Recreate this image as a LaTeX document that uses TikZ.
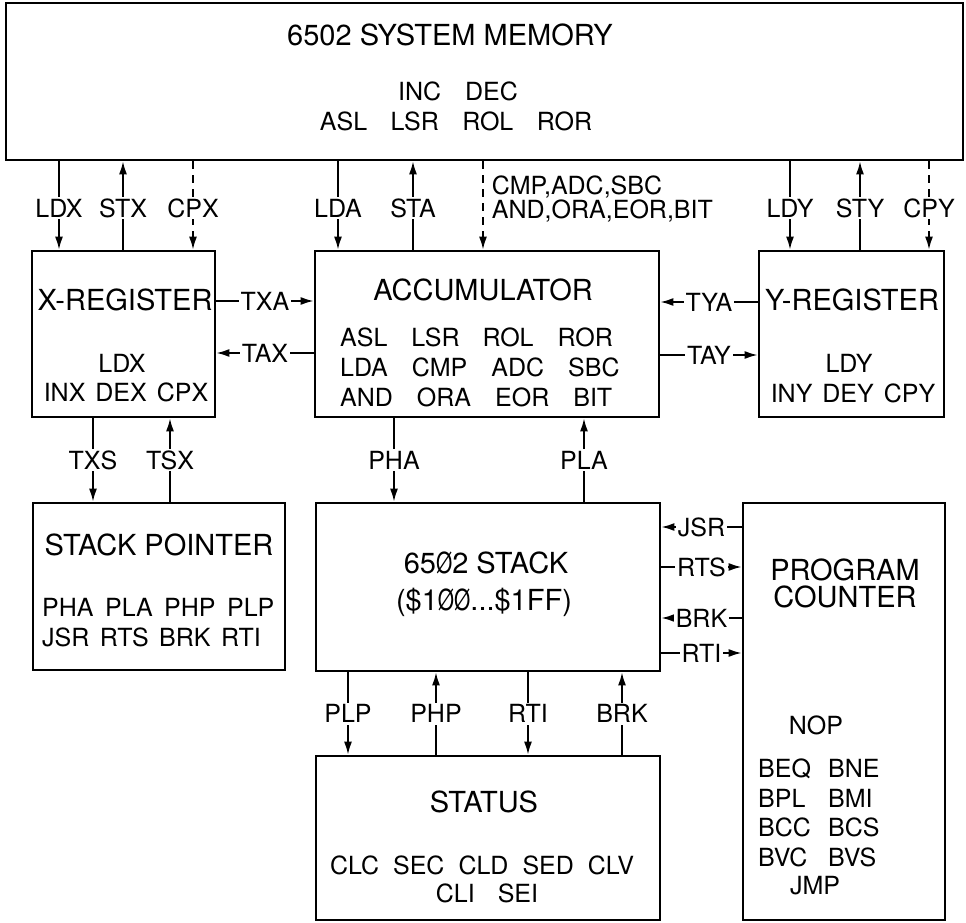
\documentclass[tikz,border=0pt]{standalone}
\usepackage{fontspec}
\usepackage{graphicx}
\setmainfont{TeX Gyre Heros}
\usetikzlibrary{arrows.meta,positioning}
\newcommand{\slz}{\scalebox{0.72}[1]{Ø}}
\tikzstyle{unit} = [rectangle, draw=black, line width=2.8pt, inner sep=0pt]
\tikzstyle{big} = [font=\fontsize{29}{30}\selectfont, text height=21pt, text depth=0pt, inner sep=0pt]
\tikzstyle{small} = [font=\fontsize{25}{26}\selectfont, text height=18pt, text depth=0pt, inner sep=0pt]
\tikzstyle{op} = [small, fill=white, inner sep=2pt]
\tikzstyle{line} = [draw, line width=1.7pt, -{Latex[length=13pt,width=8pt]}]
\tikzstyle{cmpline} = [line, dash pattern=on 8pt off 6pt]

\begin{document}
\begin{tikzpicture}[x=1pt,y=-1pt]
  \useasboundingbox (0,0) rectangle (966,923);
  % units
  \node (mem) [unit, minimum width=957pt, minimum height=157pt] at (484.5,81.5) {};
  \node (xreg) [unit, minimum width=183pt, minimum height=166pt] at (123.5,334) {};
  \node (acc) [unit, minimum width=344pt, minimum height=166pt] at (487,334) {};
  \node (yreg) [unit, minimum width=185pt, minimum height=166pt] at (851.5,334) {};
  \node (sp) [unit, minimum width=252pt, minimum height=167pt] at (159,586.5) {};
  \node (stack) [unit, minimum width=344pt, minimum height=168pt] at (488,587) {};
  \node (pc) [unit, minimum width=202pt, minimum height=417pt] at (844,711.5) {};
  \node (status) [unit, minimum width=344pt, minimum height=164pt] at (488,838) {};

  % memory
  \node (memname) [big] at (450,35) {6502 SYSTEM MEMORY};
  \node (memops1) [small] at (458,92) {INC\hspace{24pt}DEC};
  \node (memops2) [small] at (456,122) {ASL\hspace{23.5pt}LSR\hspace{23.5pt}ROL\hspace{23.5pt}ROR};

  % registers
  \node (xname) [big] at (125,300) {X-REGISTER};
  \node (xops1) [small] at (122,363) {LDX};
  \node (xops2) [small] at (126,392) {INX\hspace{10pt}DEX\hspace{10pt}CPX};
  \node (accname) [big] at (483,290) {ACCUMULATOR};
  \node (accops1) [small, anchor=west] at (340,337) {ASL\hspace{24pt}LSR\hspace{23pt}ROL\hspace{24pt}ROR};
  \node (accops2) [small, anchor=west] at (340,367) {LDA\hspace{24pt}CMP\hspace{24pt}ADC\hspace{24pt}SBC};
  \node (accops3) [small, anchor=west] at (340,397) {AND\hspace{24pt}ORA\hspace{24pt}EOR\hspace{24pt}BIT};
  \node (yname) [big] at (852,300) {Y-REGISTER};
  \node (yops1) [small] at (849,363) {LDY};
  \node (yops2) [small] at (853,393) {INY\hspace{10pt}DEY\hspace{10pt}CPY};

  % stack pointer and stack
  \node (spname) [big] at (159,545) {STACK POINTER};
  \node (spops1) [small, anchor=west] at (42,607) {PHA\hspace{11.5pt}PLA\hspace{11.5pt}PHP\hspace{11.5pt}PLP};
  \node (spops2) [small, anchor=west] at (42,637) {JSR\hspace{10.5pt}RTS\hspace{10.5pt}BRK\hspace{10.5pt}RTI};
  \node (stackname) [big] at (486,563) {65\slz2 STACK};
  \node (stackrange) [big] at (484,600) {(\$1\slz\slz...\$1FF)};

  % program counter
  \node (pcname) [big] at (845,570) {PROGRAM};
  \node (pcname2) [big] at (845,597) {COUNTER};
  \node (pcnop) [small] at (816,725) {NOP};
  \node (pcb1) [small, anchor=west] at (758,768) {\makebox[70pt][l]{BEQ}BNE};
  \node (pcb2) [small, anchor=west] at (758,798) {\makebox[70pt][l]{BPL}BMI};
  \node (pcb3) [small, anchor=west] at (758,827) {\makebox[70pt][l]{BCC}BCS};
  \node (pcb4) [small, anchor=west] at (758,857) {\makebox[70pt][l]{BVC}BVS};
  \node (pcjmp) [small] at (815,885) {JMP};

  % status
  \node (stname) [big] at (484,802) {STATUS};
  \node (stops1) [small] at (482,865) {CLC\hspace{14pt}SEC\hspace{14pt}CLD\hspace{14pt}SED\hspace{14pt}CLV};
  \node (stops2) [small] at (487,893) {CLI\hspace{23pt}SEI};

  % memory <-> registers
  \draw [line] (mem.south -| 59,0) -- node [op, pos=0.53] {LDX} (xreg.north -| 59,0);
  \draw [line] (xreg.north -| 123,0) -- node [op, pos=0.47] {STX} (mem.south -| 123,0);
  \draw [cmpline] (mem.south -| 193,0) -- node [op, pos=0.53] {CPX} (xreg.north -| 193,0);
  \draw [line] (mem.south -| 338,0) -- node [op, pos=0.53] {LDA} (acc.north -| 338,0);
  \draw [line] (acc.north -| 413,0) -- node [op, pos=0.47] {STA} (mem.south -| 413,0);
  \draw [cmpline] (mem.south -| 483,0) -- node [small, right=8pt, pos=0.27] {CMP,ADC,SBC} node [small, right=8pt, pos=0.55] {AND,ORA,EOR,BIT} (acc.north -| 483,0);
  \draw [line] (mem.south -| 790,0) -- node [op, pos=0.53] {LDY} (yreg.north -| 790,0);
  \draw [line] (yreg.north -| 860,0) -- node [op, pos=0.47] {STY} (mem.south -| 860,0);
  \draw [cmpline] (mem.south -| 929,0) -- node [op, pos=0.53] {CPY} (yreg.north -| 929,0);

  % transfers
  \draw [line] (xreg.east |- 0,301) -- node [op] {TXA} (acc.west |- 0,301);
  \draw [line] (acc.west |- 0,353) -- node [op] {TAX} (xreg.east |- 0,353);
  \draw [line] (yreg.west |- 0,302) -- node [op] {TYA} (acc.east |- 0,302);
  \draw [line] (acc.east |- 0,355) -- node [op] {TAY} (yreg.west |- 0,355);

  % stack pointer, stack
  \draw [line] (xreg.south -| 93,0) -- node [op] {TXS} (sp.north -| 93,0);
  \draw [line] (sp.north -| 170,0) -- node [op] {TSX} (xreg.south -| 170,0);
  \draw [line] (acc.south -| 394,0) -- node [op] {PHA} (stack.north -| 394,0);
  \draw [line] (stack.north -| 584,0) -- node [op] {PLA} (acc.south -| 584,0);

  % program counter
  \draw [line] (pc.west |- 0,527) -- node [op] {JSR} (stack.east |- 0,527);
  \draw [line] (stack.east |- 0,567) -- node [op] {RTS} (pc.west |- 0,567);
  \draw [line] (pc.west |- 0,618) -- node [op] {BRK} (stack.east |- 0,618);
  \draw [line] (stack.east |- 0,653) -- node [op] {RTI} (pc.west |- 0,653);

  % status
  \draw [line] (stack.south -| 348,0) -- node [op] {PLP} (status.north -| 348,0);
  \draw [line] (status.north -| 436,0) -- node [op] {PHP} (stack.south -| 436,0);
  \draw [line] (stack.south -| 528,0) -- node [op] {RTI} (status.north -| 528,0);
  \draw [line] (status.north -| 622,0) -- node [op] {BRK} (stack.south -| 622,0);
\end{tikzpicture}
\end{document}
